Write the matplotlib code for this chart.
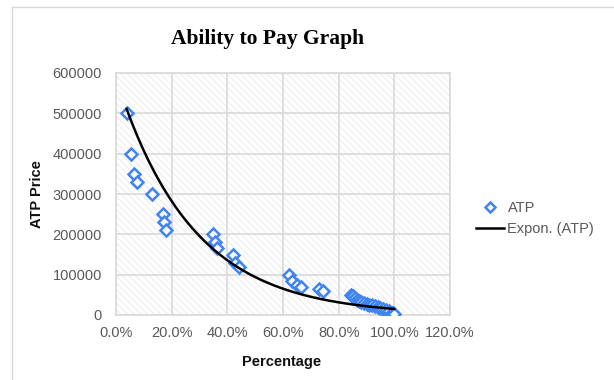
import numpy as np
import matplotlib
matplotlib.use("Agg")
import matplotlib.pyplot as plt
from matplotlib.ticker import FuncFormatter
from matplotlib.lines import Line2D

# Share of respondents (as fraction) and ability-to-pay price
percentage = [0.038, 0.054, 0.065, 0.075, 0.129, 0.170, 0.174, 0.180,
              0.350, 0.357, 0.364, 0.419, 0.426, 0.443,
              0.620, 0.634, 0.650, 0.663, 0.730, 0.742,
              0.843, 0.850, 0.858, 0.866, 0.874, 0.882, 0.890, 0.900,
              0.910, 0.920, 0.930, 0.940, 0.950, 0.960, 0.970, 0.980,
              0.990, 0.995, 1.000]
atp_price = [500000, 400000, 350000, 330000, 300000, 250000, 230000, 210000,
             200000, 180000, 165000, 150000, 130000, 120000,
             100000, 85000, 75000, 70000, 65000, 60000,
             50000, 47000, 43000, 38000, 35000, 32000, 30000, 28000,
             26000, 24000, 22000, 20000, 18000, 15000, 12000, 9000,
             6000, 4000, 2500]

x_ticks = [0.0, 0.2, 0.4, 0.6, 0.8, 1.0, 1.2]
y_ticks = [0, 100000, 200000, 300000, 400000, 500000, 600000]

title = "Ability to Pay Graph"
series_name = "ATP"
trend_name = "Expon. (ATP)"

blue = "#3f84f2"
grey_text = "#595959"
grid_col = "#d9d9d9"

matplotlib.rcParams["hatch.linewidth"] = 0.6

fig = plt.figure(figsize=(6.14, 3.80), dpi=100)
fig.patch.set_facecolor("white")

ax = fig.add_axes([116 / 614, 1 - 315 / 380, (450 - 116) / 614, (315 - 73) / 380])
ax.set_facecolor("white")

# Light downward-diagonal fill of the plot area
ax.add_patch(plt.Rectangle((0, 0), 1, 1, transform=ax.transAxes,
                           facecolor="white", edgecolor="#e8e8e8",
                           hatch="\\\\\\\\\\", linewidth=0, zorder=0))

x = np.array(percentage)
y = np.array(atp_price, dtype=float)

# Exponential trendline: least squares on ln(y)
b, ln_a = np.polyfit(x, np.log(y), 1)
xf = np.linspace(x.min(), x.max(), 200)
yf = np.exp(ln_a) * np.exp(b * xf)

ax.plot(x, y, linestyle="none", marker="D", markersize=6,
        markerfacecolor="white", markeredgecolor=blue, markeredgewidth=1.8,
        zorder=3)
ax.plot(xf, yf, color="black", linewidth=1.8, zorder=4)

ax.set_xlim(0, 1.2)
ax.set_ylim(0, 600000)
ax.set_xticks(x_ticks)
ax.set_yticks(y_ticks)
ax.xaxis.set_major_formatter(FuncFormatter(lambda v, p: f"{v * 100:.1f}%"))
ax.yaxis.set_major_formatter(FuncFormatter(lambda v, p: f"{int(round(v))}"))
ax.grid(True, color=grid_col, linewidth=1.2, zorder=1)
ax.set_axisbelow(True)
for s in ax.spines.values():
    s.set_color(grid_col)
    s.set_linewidth(1.2)
ax.tick_params(length=0, labelsize=10.5, labelcolor=grey_text,
               labelfontfamily="Liberation Sans")
ax.tick_params(axis="y", pad=10)
ax.tick_params(axis="x", pad=8)

fig.text(268 / 614, 1 - 44 / 380, title, ha="center", va="baseline",
         fontsize=15.5, fontweight="bold", family="Liberation Serif")
fig.text(282 / 614, 1 - 362 / 380, "Percentage", ha="center", va="center",
         fontsize=10.5, fontweight="bold", family="Liberation Sans", color="#111111")
fig.text(37 / 614, 1 - 194 / 380, "ATP Price", ha="center", va="center",
         rotation=90, fontsize=10.5, fontweight="bold", family="Liberation Sans",
         color="#111111")

handles = [
    Line2D([], [], linestyle="none", marker="D", markersize=5,
           markerfacecolor="white", markeredgecolor=blue, markeredgewidth=1.8),
    Line2D([], [], color="black", linewidth=1.8),
]
leg = fig.legend(handles, [series_name, trend_name], loc="upper left",
                 bbox_to_anchor=(463 / 614, 1 - 188 / 380), frameon=False,
                 prop={"family": "Liberation Sans", "size": 10.5},
                 handlelength=1.9, handletextpad=0.25, labelspacing=0.45)
for t in leg.get_texts():
    t.set_color(grey_text)

# Chart area border
fig.add_artist(Line2D([12 / 614, 12 / 614], [0, 1 - 7 / 380],
                      transform=fig.transFigure, color="#d9d9d9", linewidth=1))
fig.add_artist(Line2D([12 / 614, 1], [1 - 7 / 380, 1 - 7 / 380],
                      transform=fig.transFigure, color="#d9d9d9", linewidth=1))

fig.savefig("out.png", dpi=100)
